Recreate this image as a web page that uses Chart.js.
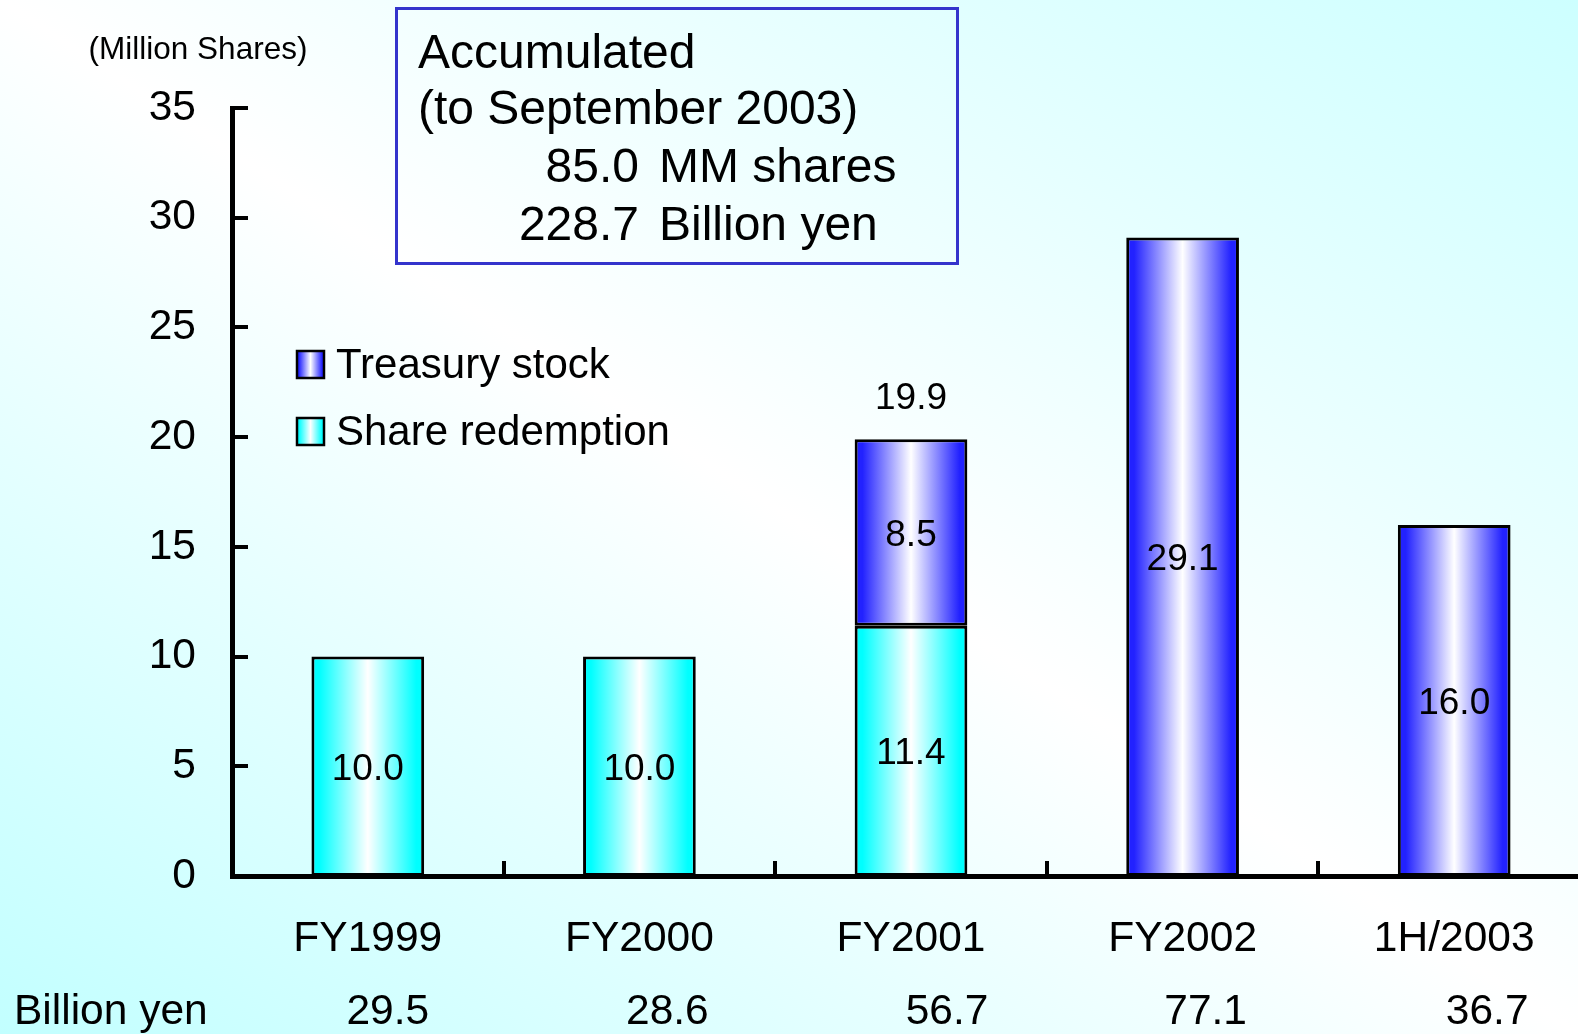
<!DOCTYPE html>
<html>
<head>
<meta charset="utf-8">
<title>Share buybacks</title>
<script src="https://cdn.jsdelivr.net/npm/chart.js@4.4.0/dist/chart.umd.min.js"></script>
<style>
  html, body { margin: 0; padding: 0; overflow: hidden; width: 1578px; height: 1034px; background: #fff; }
  canvas { display: block; }
</style>
</head>
<body>
<canvas id="chart" width="1600" height="1034"></canvas>
<script>
// Fiscal periods and amounts (million shares)
const categories = ['FY1999', 'FY2000', 'FY2001', 'FY2002', '1H/2003'];
const shareRedemption = [10.0, 10.0, 11.4, null, null];
const treasuryStock = [null, null, 8.5, 29.1, 16.0];
// Cost per period (billion yen)
const billionYen = [29.5, 28.6, 56.7, 77.1, 36.7];
// Totals to September 2003
const accumulatedShares = 85.0;
const accumulatedYen = 228.7;
const yMax = 35;
const yStep = 5;

const FONT = '"Liberation Sans", Arial, Helvetica, sans-serif';
const font = px => px + 'px ' + FONT;
const CYAN = '#00ffff';
const BLUE = '#2222ff';
const BAR_SHARE = 0.415;
const AXIS_FONT = 42.5;

function stripeGradient(ctx, x0, x1, color) {
  const g = ctx.createLinearGradient(x0, 0, x1, 0);
  g.addColorStop(0, color);
  g.addColorStop(0.07, color);
  g.addColorStop(0.5, '#ffffff');
  g.addColorStop(0.93, color);
  g.addColorStop(1, color);
  return g;
}

function barFill(color) {
  return c => {
    const xs = c.chart.scales && c.chart.scales.x;
    if (!xs || c.dataIndex === undefined) return color;
    const cx = xs.getPixelForValue(c.dataIndex);
    const w = xs.width / categories.length * BAR_SHARE;
    if (!Number.isFinite(cx) || !Number.isFinite(w) || w <= 0) return color;
    return stripeGradient(c.chart.ctx, cx - w / 2, cx + w / 2, color);
  };
}

const decorations = {
  id: 'decorations',
  beforeDraw(chart) {
    const { ctx } = chart;
    ctx.save();
    // diagonal wash: white along the top-left/bottom-right diagonal, cyan in the other corners
    const g = ctx.createLinearGradient(315, 1240, 1263, -206);
    g.addColorStop(0, '#c2ffff');
    g.addColorStop(0.5, '#ffffff');
    g.addColorStop(1, '#cdffff');
    ctx.fillStyle = g;
    ctx.fillRect(0, 0, chart.width, chart.height);
    ctx.restore();
  },
  afterDatasetsDraw(chart) {
    const { ctx } = chart;
    ctx.save();
    ctx.fillStyle = '#000';
    ctx.textAlign = 'center';
    ctx.textBaseline = 'alphabetic';
    ctx.font = font(37);
    const sets = [shareRedemption, treasuryStock];
    sets.forEach((vals, di) => {
      const meta = chart.getDatasetMeta(di);
      vals.forEach((v, i) => {
        if (v === null) return;
        const el = meta.data[i];
        const mid = (el.y + el.base) / 2;
        ctx.fillText(v.toFixed(1), el.x, mid + 0.358 * 37);
      });
    });
    // stack totals where both parts are present
    const topMeta = chart.getDatasetMeta(1);
    categories.forEach((_, i) => {
      if (shareRedemption[i] === null || treasuryStock[i] === null) return;
      const total = shareRedemption[i] + treasuryStock[i];
      const el = topMeta.data[i];
      ctx.fillText(total.toFixed(1), el.x, el.y - 44 + 0.358 * 37);
    });
    ctx.restore();
  },
  afterDraw(chart) {
    const { ctx } = chart;
    const xs = chart.scales.x, ys = chart.scales.y;
    const area = chart.chartArea;
    ctx.save();
    ctx.strokeStyle = '#000';
    ctx.lineWidth = 4;
    // inward tick marks on the value axis
    for (let v = yStep; v <= yMax; v += yStep) {
      const y = Math.round(ys.getPixelForValue(v));
      ctx.beginPath();
      ctx.moveTo(area.left, y);
      ctx.lineTo(area.left + 16, y);
      ctx.stroke();
    }
    // tick marks between categories
    for (let i = 1; i < categories.length; i++) {
      const x = Math.round((xs.getPixelForValue(i - 1) + xs.getPixelForValue(i)) / 2);
      ctx.beginPath();
      ctx.moveTo(x, area.bottom);
      ctx.lineTo(x, area.bottom - 15);
      ctx.stroke();
    }

    ctx.fillStyle = '#000';
    // unit caption
    ctx.font = font(31.5);
    ctx.textAlign = 'center';
    ctx.textBaseline = 'alphabetic';
    ctx.fillText('(Million Shares)', 198, 47.5 + 0.358 * 31.5);

    // cost row under the category labels
    ctx.font = font(AXIS_FONT);
    ctx.textAlign = 'left';
    ctx.fillText('Billion yen', 14, 1009 + 0.358 * AXIS_FONT);
    ctx.textAlign = 'center';
    const yenShift = [20, 28, 36, 23, 33];
    billionYen.forEach((v, i) => {
      ctx.fillText(v.toFixed(1), xs.getPixelForValue(i) + yenShift[i], 1009 + 0.358 * AXIS_FONT);
    });

    // legend
    const legendItems = [
      { label: 'Treasury stock', color: BLUE, y: 351 },
      { label: 'Share redemption', color: CYAN, y: 418 }
    ];
    legendItems.forEach(it => {
      ctx.fillStyle = stripeGradient(ctx, 297, 324, it.color);
      ctx.fillRect(297, it.y, 27, 27);
      ctx.lineWidth = 2.5;
      ctx.strokeStyle = '#000';
      ctx.strokeRect(297, it.y, 27, 27);
      ctx.fillStyle = '#000';
      ctx.font = font(42);
      ctx.textAlign = 'left';
      ctx.fillText(it.label, 336, it.y + 12 + 0.358 * 42);
    });

    // summary box
    ctx.lineWidth = 3;
    ctx.strokeStyle = '#3434cc';
    ctx.strokeRect(396.5, 8.5, 561, 255);
    ctx.fillStyle = '#000';
    ctx.font = font(48);
    ctx.textAlign = 'left';
    ctx.fillText('Accumulated', 418, 68);
    ctx.fillText('(to September 2003)', 418, 124);
    ctx.textAlign = 'right';
    ctx.fillText(accumulatedShares.toFixed(1), 639, 182);
    ctx.fillText(accumulatedYen.toFixed(1), 639, 240);
    ctx.textAlign = 'left';
    ctx.fillText('MM shares', 659, 182);
    ctx.fillText('Billion yen', 659, 240);
    ctx.restore();
  }
};

new Chart(document.getElementById('chart'), {
  type: 'bar',
  data: {
    labels: categories,
    datasets: [
      {
        label: 'Share redemption',
        data: shareRedemption,
        backgroundColor: barFill(CYAN),
        borderColor: '#000',
        borderWidth: 3,
        borderSkipped: false,
        barPercentage: BAR_SHARE,
        categoryPercentage: 1
      },
      {
        label: 'Treasury stock',
        data: treasuryStock,
        backgroundColor: barFill(BLUE),
        borderColor: '#000',
        borderWidth: 3,
        borderSkipped: false,
        barPercentage: BAR_SHARE,
        categoryPercentage: 1
      }
    ]
  },
  options: {
    responsive: false,
    animation: false,
    devicePixelRatio: 1,
    layout: { padding: { left: 0, right: 10, top: 108, bottom: 0 } },
    plugins: { legend: { display: false }, tooltip: { enabled: false } },
    scales: {
      x: {
        stacked: true,
        offset: true,
        grid: { display: false, drawTicks: false },
        border: { display: true, color: '#000', width: 5 },
        ticks: { color: '#000', font: { family: FONT, size: AXIS_FONT }, padding: 38, maxRotation: 0, autoSkip: false },
        afterFit: s => { s.height = 158; }
      },
      y: {
        stacked: true,
        min: 0,
        max: yMax,
        grid: { display: false, drawTicks: false },
        border: { display: true, color: '#000', width: 5 },
        ticks: { stepSize: yStep, color: '#000', font: { family: FONT, size: AXIS_FONT }, padding: 36 },
        afterFit: s => { s.width = 232; }
      }
    }
  },
  plugins: [decorations]
});
</script>
</body>
</html>
